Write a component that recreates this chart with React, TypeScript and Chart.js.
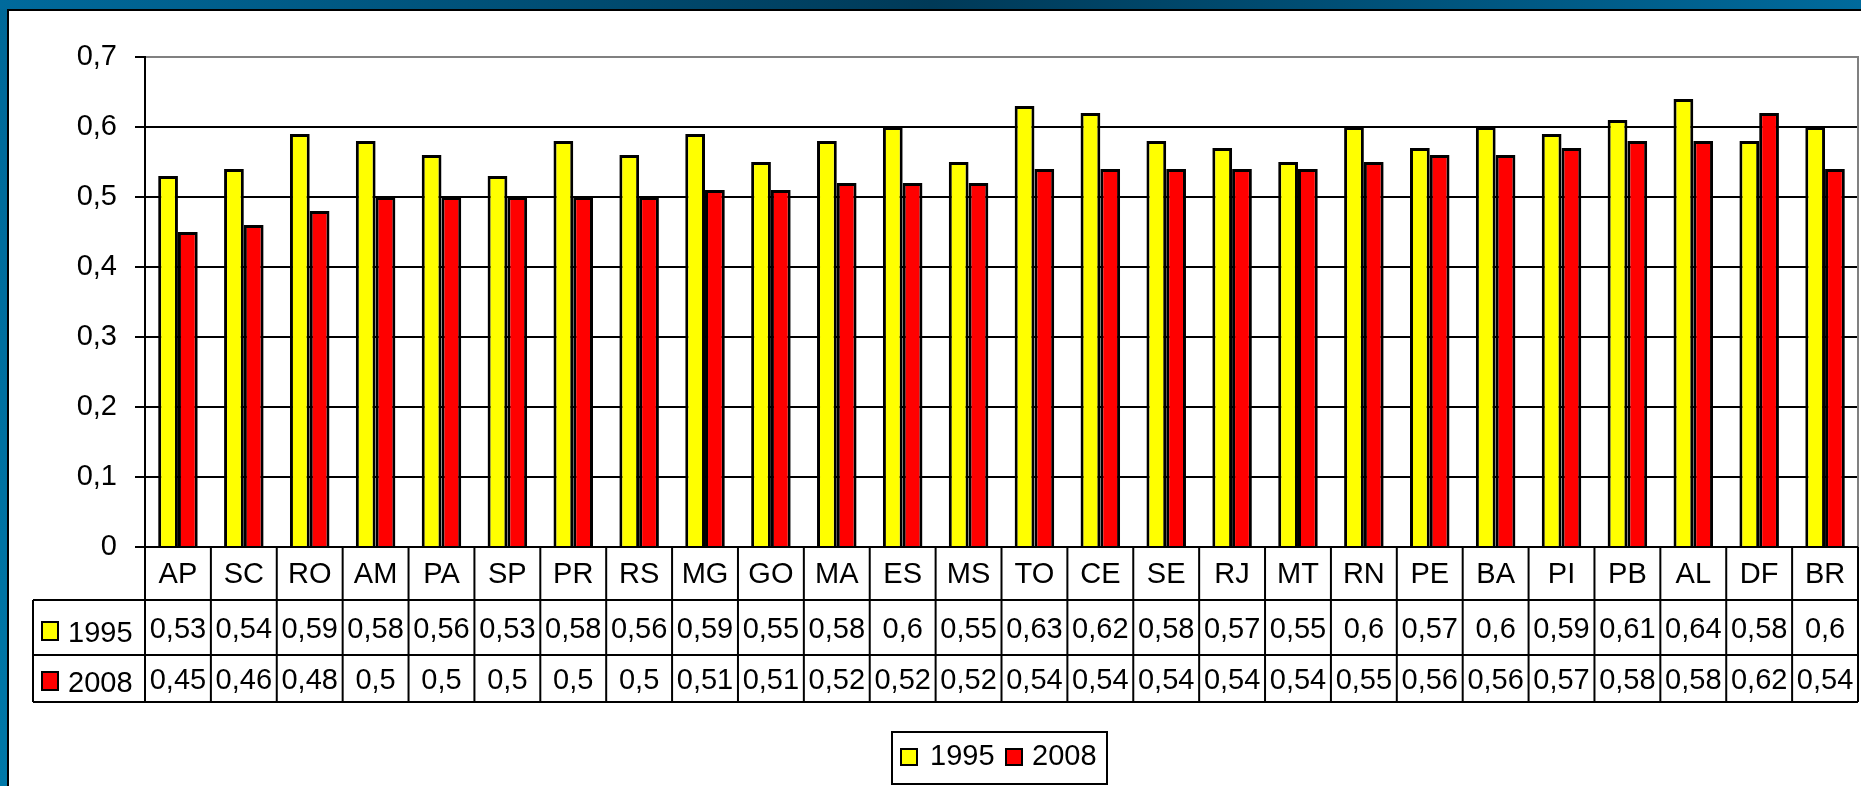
import React, { useEffect, useRef } from 'react';
import { Chart, registerables } from 'chart.js';

Chart.register(...registerables);

const categories = ['AP', 'SC', 'RO', 'AM', 'PA', 'SP', 'PR', 'RS', 'MG', 'GO', 'MA', 'ES', 'MS', 'TO', 'CE', 'SE', 'RJ', 'MT', 'RN', 'PE', 'BA', 'PI', 'PB', 'AL', 'DF', 'BR'];
const values1995 = [0.53, 0.54, 0.59, 0.58, 0.56, 0.53, 0.58, 0.56, 0.59, 0.55, 0.58, 0.6, 0.55, 0.63, 0.62, 0.58, 0.57, 0.55, 0.6, 0.57, 0.6, 0.59, 0.61, 0.64, 0.58, 0.6];
const values2008 = [0.45, 0.46, 0.48, 0.5, 0.5, 0.5, 0.5, 0.5, 0.51, 0.51, 0.52, 0.52, 0.52, 0.54, 0.54, 0.54, 0.54, 0.54, 0.55, 0.56, 0.56, 0.57, 0.58, 0.58, 0.62, 0.54];
const seriesLabels = ['1995', '2008'];
const seriesColors = ['#ffff00', '#ff0000'];
const yTickLabels = ['0', '0,1', '0,2', '0,3', '0,4', '0,5', '0,6', '0,7'];

const FAMILY = '"Liberation Sans", Arial, sans-serif';
const FONT = `29px ${FAMILY}`;
const fmt = (v: number) => String(v).replace('.', ',');

const framePlugin = {
  id: 'frame',
  beforeDraw(chart: any) {
    const { ctx, width, height } = chart;
    ctx.save();
    ctx.fillStyle = '#ffffff';
    ctx.fillRect(0, 0, width, height);
    const g = ctx.createLinearGradient(0, 0, width, 0);
    g.addColorStop(0, '#006a9c');
    g.addColorStop(0.5, '#003a58');
    g.addColorStop(1, '#006a9c');
    ctx.fillStyle = g;
    ctx.fillRect(0, 0, width, 9);
    const gl = ctx.createLinearGradient(0, 0, 0, height);
    gl.addColorStop(0, '#006898');
    gl.addColorStop(1, '#0078a8');
    ctx.fillStyle = gl;
    ctx.fillRect(0, 9, 7, height - 9);
    ctx.fillStyle = '#000000';
    ctx.fillRect(7, 9, width - 7, 2);
    ctx.fillRect(7, 9, 2, height - 9);
    ctx.restore();
  },
};

const tablePlugin = {
  id: 'dataTable',
  afterDraw(chart: any) {
    const { ctx, chartArea: area } = chart;
    const xs = chart.scales.x;
    const n = categories.length;
    const bounds: number[] = [area.left];
    for (let i = 1; i < n; i++) {
      bounds.push((xs.getPixelForValue(i - 1) + xs.getPixelForValue(i)) / 2);
    }
    bounds.push(area.right);
    const y0 = area.bottom;
    const rows = [y0, y0 + 53, y0 + 108, y0 + 155];
    const keyLeft = 33;

    ctx.save();
    ctx.strokeStyle = '#808080';
    ctx.lineWidth = 2;
    ctx.beginPath();
    ctx.moveTo(area.right, area.top - 1);
    ctx.lineTo(area.right, area.bottom);
    ctx.stroke();

    ctx.strokeStyle = '#000000';
    ctx.lineWidth = 2;
    ctx.beginPath();
    ctx.moveTo(area.left - 10, rows[0]);
    ctx.lineTo(area.right, rows[0]);
    for (let r = 1; r < 4; r++) {
      ctx.moveTo(keyLeft, rows[r]);
      ctx.lineTo(area.right, rows[r]);
    }
    bounds.forEach((b) => {
      ctx.moveTo(b, rows[0]);
      ctx.lineTo(b, rows[3]);
    });
    ctx.moveTo(keyLeft, rows[1]);
    ctx.lineTo(keyLeft, rows[3]);
    ctx.stroke();

    ctx.fillStyle = '#000000';
    ctx.font = FONT;
    ctx.textAlign = 'center';
    ctx.textBaseline = 'alphabetic';
    categories.forEach((c, i) => {
      const cx = (bounds[i] + bounds[i + 1]) / 2;
      ctx.fillText(c, cx, y0 + 36);
      ctx.fillText(fmt(values1995[i]), cx, y0 + 91);
      ctx.fillText(fmt(values2008[i]), cx, y0 + 142);
    });

    const keyBase = [y0 + 95, y0 + 145];
    seriesLabels.forEach((lab, s) => {
      const top = keyBase[s] - 20;
      ctx.fillStyle = seriesColors[s];
      ctx.fillRect(42, top, 16, 18);
      ctx.strokeStyle = '#000';
      ctx.lineWidth = 2;
      ctx.strokeRect(42, top, 16, 18);
      ctx.fillStyle = '#000';
      ctx.textAlign = 'left';
      ctx.fillText(lab, 68, keyBase[s]);
    });

    ctx.lineWidth = 2;
    ctx.strokeStyle = '#000';
    ctx.strokeRect(892, 732, 215, 52);
    const legItems = [
      { box: 901, text: 930 },
      { box: 1006, text: 1032 },
    ];
    seriesLabels.forEach((lab, s) => {
      ctx.fillStyle = seriesColors[s];
      ctx.fillRect(legItems[s].box, 749, 16, 16);
      ctx.strokeRect(legItems[s].box, 749, 16, 16);
      ctx.fillStyle = '#000';
      ctx.textAlign = 'left';
      ctx.fillText(lab, legItems[s].text, 765);
    });
    ctx.restore();
  },
};

export default function App() {
  const ref = useRef<HTMLCanvasElement>(null);
  useEffect(() => {
    if (!ref.current) return;
    const chart = new Chart(ref.current, {
      type: 'bar',
      data: {
        labels: categories,
        datasets: [
          {
            label: seriesLabels[0],
            data: values1995,
            backgroundColor: seriesColors[0],
            borderColor: '#000000',
            borderWidth: 3,
            borderSkipped: 'start',
          },
          {
            label: seriesLabels[1],
            data: values2008,
            backgroundColor: seriesColors[1],
            borderColor: '#000000',
            borderWidth: 3,
            borderSkipped: 'start',
          },
        ],
      },
      options: {
        responsive: false,
        animation: false,
        devicePixelRatio: 1,
        layout: { padding: { left: 0, top: 57, right: 3, bottom: 239 } },
        datasets: { bar: { categoryPercentage: 0.6, barPercentage: 1 } },
        plugins: { legend: { display: false }, tooltip: { enabled: false } },
        scales: {
          x: { display: false },
          y: {
            min: 0,
            max: 0.7,
            afterFit: (scale: any) => {
              scale.width = 145;
            },
            ticks: {
              stepSize: 0.1,
              padding: 18,
              color: '#000000',
              font: { size: 29, family: FAMILY },
              callback: (_v: any, i: number) => yTickLabels[i],
            },
            grid: {
              color: (c: any) => (c.index === yTickLabels.length - 1 ? '#808080' : '#000000'),
              lineWidth: 2,
              tickLength: 10,
              tickColor: '#000000',
            },
            border: { display: true, color: '#000000', width: 2 },
          },
        },
      },
      plugins: [framePlugin, tablePlugin],
    } as any);
    return () => chart.destroy();
  }, []);
  return (
    <div style={{ position: 'fixed', left: 0, top: 0, width: 1861, height: 786, background: '#fff' }}>
      <canvas ref={ref} width={1861} height={786} style={{ display: 'block', width: 1861, height: 786 }} />
    </div>
  );
}
